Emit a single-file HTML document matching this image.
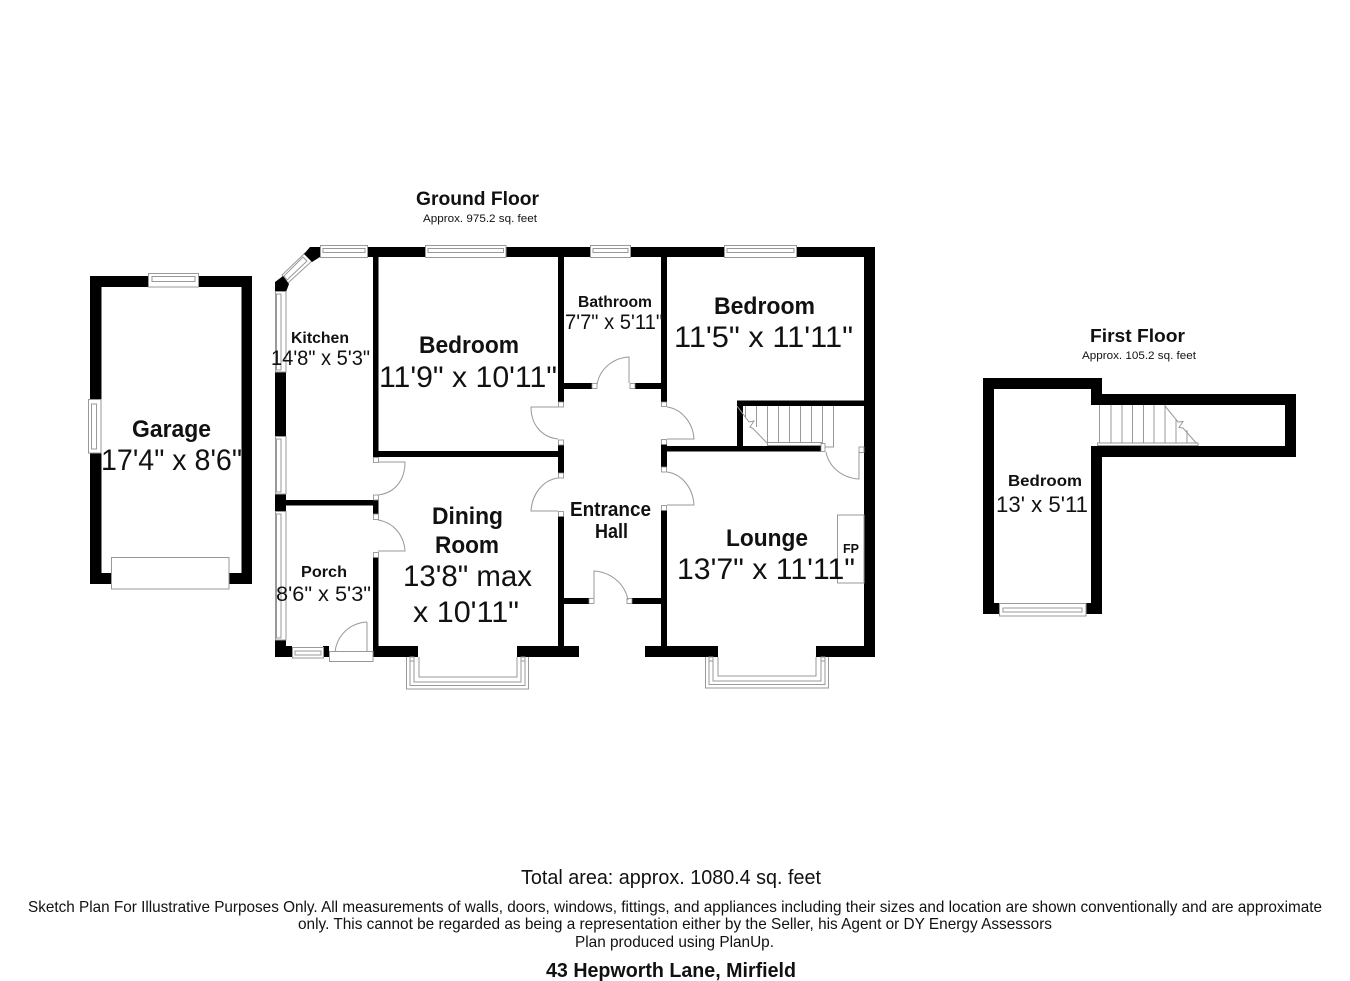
<!DOCTYPE html>
<html><head><meta charset="utf-8"><title>43 Hepworth Lane, Mirfield</title>
<style>
html,body{margin:0;padding:0;background:#fff}
svg{display:block;filter:blur(.3px)}
text{font-family:"Liberation Sans",Arial,sans-serif;fill:#111}
.b{font-weight:bold}
.w{fill:#000;stroke:none}
.l{fill:#fff;stroke:#999;stroke-width:1}
.n{fill:none;stroke:#999;stroke-width:1}
.j{fill:#fff;stroke:#888;stroke-width:.8}
</style></head><body>
<svg width="1350" height="981" viewBox="0 0 1350 981" xmlns="http://www.w3.org/2000/svg">
<rect width="1350" height="981" fill="#fff"/>

<!-- GARAGE -->
<path class="w" fill-rule="evenodd" d="M90 276H252V584H90ZM101.500 287V573H241.500V287Z"/>
<rect class="l" x="148.500" y="273.500" width="50" height="13.500"/>
<rect class="n" x="152" y="276.500" width="43" height="5"/>
<rect class="l" x="88.500" y="399.500" width="12.500" height="53.500"/>
<rect class="n" x="91.500" y="404" width="5" height="45"/>
<rect class="l" x="111.500" y="557.500" width="117.500" height="31.500"/>

<!-- GROUND FLOOR outer walls -->
<path class="w" d="M320 247H875V657H816V646H864V257H320Z"/>
<rect class="w" x="275" y="372" width="11" height="64"/>
<rect class="w" x="275" y="494" width="11" height="17"/>
<rect class="w" x="275" y="640" width="11" height="17"/>
<rect class="w" x="286" y="646" width="6" height="11"/>
<rect class="w" x="323" y="646" width="6" height="11"/>
<rect class="w" x="373" y="646" width="45" height="11"/>
<rect class="w" x="517" y="646" width="62" height="11"/>
<rect class="w" x="645" y="646" width="73" height="11"/>

<!-- chamfer window -->
<polygon class="l" points="305,253 312,261 288,283 282,275"/>
<polygon class="n" points="303,257 307,261 287,280 284,276"/>
<polygon class="w" points="310,247 320,247 320,257 312,262 304,254"/>
<polygon class="w" points="275,282 283,276 289,284 286,292 275,292"/>

<!-- top windows -->
<rect class="l" x="320.500" y="245.500" width="47" height="12"/>
<rect class="n" x="323" y="248.500" width="42" height="4"/>
<rect class="l" x="425.500" y="245.500" width="80.500" height="12"/>
<rect class="n" x="428" y="248.500" width="75.500" height="4"/>
<rect class="l" x="590.500" y="245.500" width="40" height="12"/>
<rect class="n" x="593" y="248.500" width="35" height="4"/>
<rect class="l" x="724.500" y="245.500" width="72" height="12"/>
<rect class="n" x="727" y="248.500" width="67" height="4"/>

<!-- left windows -->
<rect class="l" x="275.500" y="291.500" width="10.500" height="80.500"/>
<rect class="n" x="276.500" y="294" width="4.500" height="76"/>
<rect class="l" x="275.500" y="436.500" width="10.500" height="57.500"/>
<rect class="n" x="276.500" y="439" width="4.500" height="53"/>
<rect class="l" x="275.500" y="511.500" width="10.500" height="128.500"/>
<rect class="n" x="276.500" y="514" width="4.500" height="124"/>
<!-- porch window + door -->
<rect class="l" x="292.500" y="647.500" width="31" height="10.500"/>
<rect class="n" x="295" y="651" width="26" height="4"/>
<rect class="l" x="329.500" y="651.500" width="43.500" height="10"/>
<path class="n" d="M367 622V651M367 622C350 623 337 635 335 652"/>

<!-- inner walls -->
<rect class="w" x="373" y="257" width="5.500" height="200"/>
<rect class="w" x="373" y="451" width="191" height="6"/>
<rect class="w" x="286" y="500" width="92" height="5.500"/>
<rect class="w" x="373" y="500" width="5.500" height="14"/>
<rect class="w" x="373" y="557" width="5.500" height="90"/>
<rect class="w" x="558" y="257" width="6" height="145"/>
<rect class="w" x="558" y="445" width="6" height="28"/>
<rect class="w" x="558" y="516" width="6" height="131"/>
<rect class="w" x="661" y="257" width="6" height="145"/>
<rect class="w" x="661" y="444" width="6" height="23"/>
<rect class="w" x="661" y="510" width="6" height="137"/>
<rect class="w" x="564" y="383" width="28" height="6"/>
<rect class="w" x="635" y="383" width="26" height="6"/>
<rect class="w" x="564" y="598" width="25" height="6"/>
<rect class="w" x="632" y="598" width="29" height="6"/>
<rect class="w" x="667" y="446" width="154" height="5.500"/>
<rect class="w" x="737" y="400.500" width="127" height="5.500"/>
<rect class="w" x="737" y="400.500" width="6" height="46"/>

<!-- door jambs -->
<rect class="j" x="373.500" y="457.500" width="5" height="5"/>
<rect class="j" x="373.500" y="495" width="5" height="5"/>
<rect class="j" x="373.500" y="514" width="5" height="5.500"/>
<rect class="j" x="373.500" y="552.500" width="5" height="5"/>
<rect class="j" x="558.500" y="402" width="5" height="5"/>
<rect class="j" x="558.500" y="440" width="5" height="5"/>
<rect class="j" x="558.500" y="473" width="5" height="5"/>
<rect class="j" x="558.500" y="511.500" width="5" height="5"/>
<rect class="j" x="661.500" y="402" width="5" height="4.500"/>
<rect class="j" x="661.500" y="439.500" width="5" height="5"/>
<rect class="j" x="661.500" y="467" width="5" height="5"/>
<rect class="j" x="661.500" y="505.500" width="5" height="5"/>
<rect class="j" x="592" y="383.500" width="5" height="5"/>
<rect class="j" x="630" y="383.500" width="5" height="5"/>
<rect class="j" x="589" y="598.500" width="5" height="5"/>
<rect class="j" x="627" y="598.500" width="5" height="5"/>

<!-- door leaves & arcs -->
<path class="n" d="M378 462H405C405 480 395 493 378 495"/>
<path class="n" d="M378 520C393 522 404 535 405 551H378"/>
<path class="n" d="M558 407H531C531 424 541 437 558 439"/>
<path class="n" d="M558 478C543 480 532 494 531 511H558"/>
<path class="n" d="M667 407C682 409 693 423 694 439H667"/>
<path class="n" d="M667 472C682 474 693 488 694 505H667"/>
<path class="n" d="M629 383V357C612 358 599 370 597 385"/>
<path class="n" d="M594 598V571C611 572 625 584 628 600"/>
<path class="n" d="M859 452V479C842 478 829 467 826 452"/>
<rect class="j" x="859" y="447" width="5" height="5.500"/>

<!-- ground floor stairs -->
<path class="n" d="M745.500 406V417M756.500 406V427M767.500 406V443M778.500 406V443M789.500 406V443M800.500 406V443M811.500 406V443M822.500 406V447M833.500 406V447H825"/>
<path class="n" d="M737 406L749 422L754 421L750 427L753 428.500L767 443"/>
<rect class="l" x="767.500" y="442.500" width="54" height="3"/>
<rect class="j" x="821" y="443.500" width="4" height="8"/>

<!-- FP -->
<rect class="n" x="837.500" y="515" width="26.500" height="68"/>

<!-- Bays -->
<path class="n" d="M419 657V677H517V657"/>
<path class="n" d="M406.500 657V689H528.500V657M410 657V685.500H525V657M414 657V682H521V657"/>
<rect class="n" x="410" y="657" width="4" height="4"/>
<rect class="n" x="521" y="657" width="4" height="4"/>
<path class="n" d="M718 657V676H816V657"/>
<path class="n" d="M705.500 657V688H828.500V657M709 657V684.500H825V657M713 657V681H821V657"/>
<rect class="n" x="709" y="657" width="4" height="4"/>
<rect class="n" x="821" y="657" width="4" height="4"/>

<!-- FIRST FLOOR -->
<path class="w" d="M983 378H1102V394H1296V457H1102V614H983ZM994 389V603H1091V446H1285V405H1091V389Z"/>
<rect x="1091" y="405" width="11" height="41" fill="#fff"/>
<rect class="l" x="999.500" y="603.500" width="86.500" height="12.500"/>
<rect class="n" x="1003" y="608" width="79" height="4"/>
<path class="n" d="M1099.500 405V443M1111 405V443M1122 405V443M1132.500 405V443M1143.500 405V443M1154 405V443M1165 405V443M1176 420V443M1187 430V443"/>
<path class="n" d="M1165 406L1178 422L1183 421.500L1179 427.500L1183 428L1198 445"/>
<rect class="l" x="1097.500" y="443" width="100.500" height="2.500"/>

<!-- LABELS -->
<text class="b" x="416" y="205" font-size="19" textLength="123" lengthAdjust="spacingAndGlyphs">Ground Floor</text>
<text x="423" y="222" font-size="11" textLength="114" lengthAdjust="spacingAndGlyphs">Approx. 975.2 sq. feet</text>
<text class="b" x="1090" y="342" font-size="18" textLength="95" lengthAdjust="spacingAndGlyphs">First Floor</text>
<text x="1082" y="359" font-size="11" textLength="114" lengthAdjust="spacingAndGlyphs">Approx. 105.2 sq. feet</text>

<text class="b" x="291" y="343" font-size="16" textLength="58" lengthAdjust="spacingAndGlyphs">Kitchen</text>
<text x="271" y="365" font-size="21" textLength="99" lengthAdjust="spacingAndGlyphs">14'8" x 5'3"</text>
<text class="b" x="419" y="353" font-size="24" textLength="100" lengthAdjust="spacingAndGlyphs">Bedroom</text>
<text x="379" y="387" font-size="30" textLength="178" lengthAdjust="spacingAndGlyphs">11'9" x 10'11"</text>
<text class="b" x="578" y="307" font-size="16" textLength="74" lengthAdjust="spacingAndGlyphs">Bathroom</text>
<text x="565" y="329" font-size="21" textLength="98" lengthAdjust="spacingAndGlyphs">7'7" x 5'11"</text>
<text class="b" x="714" y="314" font-size="24" textLength="101" lengthAdjust="spacingAndGlyphs">Bedroom</text>
<text x="674" y="347" font-size="30" textLength="179" lengthAdjust="spacingAndGlyphs">11'5" x 11'11"</text>
<text class="b" x="570" y="516" font-size="20" textLength="81" lengthAdjust="spacingAndGlyphs">Entrance</text>
<text class="b" x="595" y="538" font-size="20" textLength="33" lengthAdjust="spacingAndGlyphs">Hall</text>
<text class="b" x="726" y="546" font-size="24" textLength="82" lengthAdjust="spacingAndGlyphs">Lounge</text>
<text x="677" y="579" font-size="30" textLength="178" lengthAdjust="spacingAndGlyphs">13'7" x 11'11"</text>
<text class="b" x="843" y="553" font-size="13" textLength="16" lengthAdjust="spacingAndGlyphs">FP</text>
<text class="b" x="432" y="524" font-size="24" textLength="71" lengthAdjust="spacingAndGlyphs">Dining</text>
<text class="b" x="435" y="553" font-size="24" textLength="64" lengthAdjust="spacingAndGlyphs">Room</text>
<text x="403" y="586" font-size="30" textLength="129" lengthAdjust="spacingAndGlyphs">13'8" max</text>
<text x="413" y="622" font-size="30" textLength="106" lengthAdjust="spacingAndGlyphs">x 10'11"</text>
<text class="b" x="301" y="577" font-size="16" textLength="46" lengthAdjust="spacingAndGlyphs">Porch</text>
<text x="276" y="601" font-size="21" textLength="95" lengthAdjust="spacingAndGlyphs">8'6" x 5'3"</text>
<text class="b" x="132" y="437" font-size="24" textLength="79" lengthAdjust="spacingAndGlyphs">Garage</text>
<text x="101" y="470" font-size="30" textLength="141" lengthAdjust="spacingAndGlyphs">17'4" x 8'6"</text>
<text class="b" x="1008" y="486" font-size="16" textLength="74" lengthAdjust="spacingAndGlyphs">Bedroom</text>
<text x="996" y="512" font-size="22" textLength="92" lengthAdjust="spacingAndGlyphs">13' x 5'11</text>

<!-- FOOTER -->
<text x="521" y="884" font-size="20" textLength="300" lengthAdjust="spacingAndGlyphs">Total area: approx. 1080.4 sq. feet</text>
<text x="28" y="912" font-size="16" textLength="1294" lengthAdjust="spacingAndGlyphs">Sketch Plan For Illustrative Purposes Only. All measurements of walls, doors, windows, fittings, and appliances including their sizes and location are shown conventionally and are approximate</text>
<text x="298" y="929" font-size="16" textLength="754" lengthAdjust="spacingAndGlyphs">only. This cannot be regarded as being a representation either by the Seller, his Agent or DY Energy Assessors</text>
<text x="575" y="947" font-size="16" textLength="199" lengthAdjust="spacingAndGlyphs">Plan produced using PlanUp.</text>
<text class="b" x="546" y="977" font-size="20" textLength="250" lengthAdjust="spacingAndGlyphs">43 Hepworth Lane, Mirfield</text>
</svg>
</body></html>
